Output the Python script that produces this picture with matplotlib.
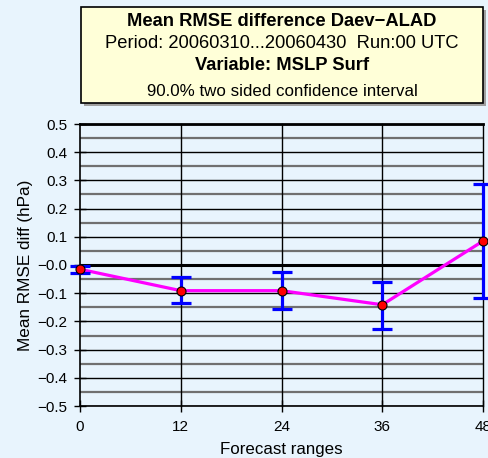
import matplotlib
matplotlib.use("Agg")
import matplotlib.pyplot as plt
import numpy as np
from matplotlib.patches import Rectangle

plt.rcParams['font.family'] = ['Liberation Sans', 'DejaVu Sans']

ranges = [0, 12, 24, 36, 48]
mean_diff = [-0.015, -0.091, -0.091, -0.141, 0.085]
ci_upper = [-0.002, -0.043, -0.026, -0.060, 0.286]
ci_lower = [-0.027, -0.135, -0.157, -0.226, -0.116]
y_ticks = [-0.5, -0.4, -0.3, -0.2, -0.1, 0.0, 0.1, 0.2, 0.3, 0.4, 0.5]
y_tick_labels = ['−0.5', '−0.4', '−0.3', '−0.2', '−0.1', '−0.0', '0.1', '0.2', '0.3', '0.4', '0.5']
title_lines = ["Mean RMSE difference Daev−ALAD",
               "Period: 20060310...20060430  Run:00 UTC",
               "Variable: MSLP Surf",
               "90.0% two sided confidence interval"]

bg = '#E8F4FD'
fig = plt.figure(figsize=(4.88, 4.58), dpi=100, facecolor=bg)
ax = fig.add_axes([80/488, 52/458, 403/488, 282/458])
ax.set_facecolor(bg)
ax.set_xlim(0, 48)
ax.set_ylim(-0.5, 0.5)

# horizontal grid
for v in np.arange(-0.45, 0.5, 0.1):
    ax.axhline(v, color='#707070', lw=1.6, zorder=1)
for v in y_ticks:
    ax.axhline(v, color='black', lw=1.0, zorder=1.1)
ax.axhline(0, color='black', lw=2.2, zorder=1.5)
ax.axhline(0.5, color='black', lw=2.0, zorder=1.5, clip_on=False)
for x in ranges[1:]:
    ax.axvline(x, color='black', lw=1.0, zorder=1.2, clip_on=False)

ax.plot(ranges, mean_diff, color='#FF00FF', lw=2.3, zorder=3, clip_on=False)
m = np.array(mean_diff)
yerr = [m - np.array(ci_lower), np.array(ci_upper) - m]
ax.errorbar(ranges, mean_diff, yerr=yerr, fmt='none', ecolor='#0000FF',
            elinewidth=2.3, capsize=7.5, capthick=2.3, zorder=4, clip_on=False)
ax.plot(ranges, mean_diff, 'o', color='red', mec='black', mew=0.8, ms=6.5,
        zorder=5, clip_on=False)

ax.set_xticks(ranges)
ax.set_xticklabels([str(r) for r in ranges], fontsize=11)
ax.set_yticks(y_ticks)
ax.set_yticklabels(y_tick_labels, fontsize=11)
ax.tick_params(axis='y', direction='inout', length=8, width=1, color='black', pad=5)
ax.tick_params(axis='x', direction='inout', length=8, width=1, color='black', pad=6)
for s in ['top', 'right']:
    ax.spines[s].set_visible(False)
for s in ['left', 'bottom']:
    ax.spines[s].set_linewidth(1.2)
ax.set_xlabel('Forecast ranges', fontsize=12.2, labelpad=6)
ax.set_ylabel('Mean RMSE diff (hPa)', fontsize=12.3, labelpad=3)

# title box
bx0, by0, bx1, by1 = 81/488, 1 - 103/458, 483/488, 1 - 7/458
fig.patches.append(Rectangle((bx0 + 3/488, by0 - 3/458), bx1 - bx0, by1 - by0,
                             transform=fig.transFigure, facecolor='#A0A0A0',
                             edgecolor='none', zorder=0))
fig.patches.append(Rectangle((bx0, by0), bx1 - bx0, by1 - by0,
                             transform=fig.transFigure, facecolor='#FFFFD8',
                             edgecolor='black', lw=1.2, zorder=1))
cx = (bx0 + bx1) / 2
fig.text(cx, 1 - 21/458, title_lines[0], ha='center', va='center', fontsize=13.2, fontweight='bold')
fig.text(cx, 1 - 43/458, title_lines[1], ha='center', va='center', fontsize=13.2)
fig.text(cx, 1 - 66/458, title_lines[2], ha='center', va='center', fontsize=13.2, fontweight='bold')
fig.text(cx, 1 - 91/458, title_lines[3], ha='center', va='center', fontsize=12.2)

fig.savefig('out.png', dpi=100, facecolor=bg)
